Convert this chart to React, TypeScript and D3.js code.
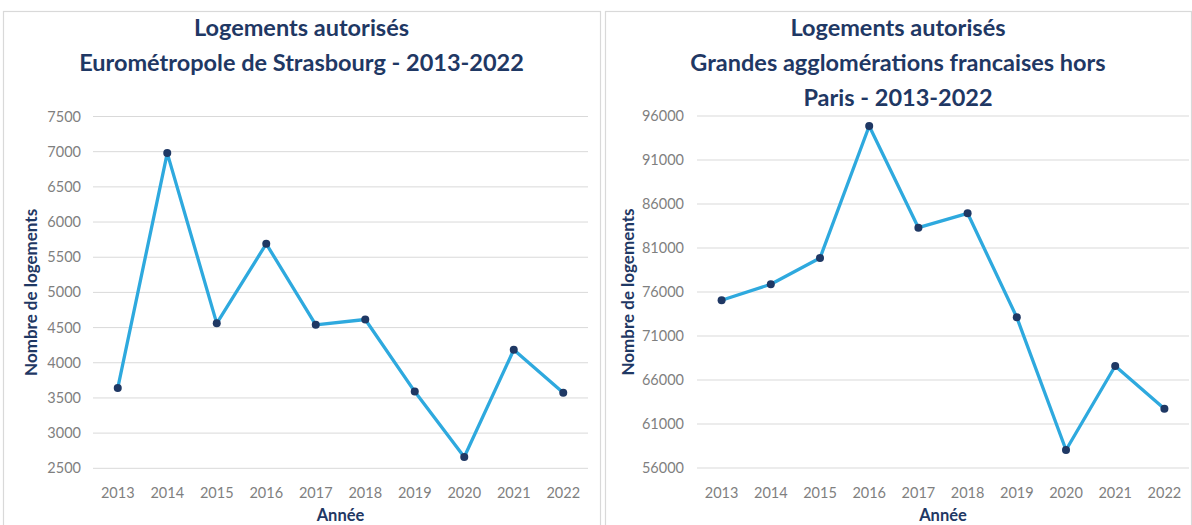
import React from "react";
import * as d3 from "d3";

const years = ["2013", "2014", "2015", "2016", "2017", "2018", "2019", "2020", "2021", "2022"];
const strasbourgValues = [3640, 6980, 4560, 5690, 4540, 4615, 3590, 2660, 4185, 3575];
const grandesValues = [75060, 76880, 79860, 94860, 83310, 84940, 73120, 58050, 67590, 62740];
const strasbourgTicks = [2500, 3000, 3500, 4000, 4500, 5000, 5500, 6000, 6500, 7000, 7500];
const grandesTicks = [56000, 61000, 66000, 71000, 76000, 81000, 86000, 91000, 96000];
const strasbourgTitle = ["Logements autorisés", "Eurométropole de Strasbourg  - 2013-2022"];
const grandesTitle = ["Logements autorisés", "Grandes agglomérations francaises hors", "Paris - 2013-2022"];
const yTitle = "Nombre de logements";
const xTitle = "Année";

const FONT = "Lato, 'Open Sans', sans-serif";
const NAVY = "#1F3864";
const LINE = "#2EA9DE";
const GRID = "#D9D9D9";
const TICK = "#7F7F7F";

type PanelProps = {
  x0: number; x1: number; top: number;
  plotL: number; plotR: number; plotT: number; plotB: number;
  values: number[]; ticks: number[]; title: string[];
  yLabelX: number; yTitleX: number;
};

function Panel(p: PanelProps) {
  const x = d3.scaleBand<string>().domain(years).range([p.plotL, p.plotR]);
  const y = d3.scaleLinear().domain([d3.min(p.ticks)!, d3.max(p.ticks)!]).range([p.plotB, p.plotT]);
  const line = d3.line<number>().x((_, i) => x(years[i])! + x.bandwidth() / 2).y((v) => y(v));
  const cx = (p.x0 + p.x1) / 2;
  const plotCx = (p.plotL + p.plotR) / 2;
  return (
    <g>
      <rect x={p.x0 + 0.5} y={p.top + 0.5} width={p.x1 - p.x0} height={540 - p.top} fill="#fff" stroke={GRID} strokeWidth={1.2} />
      {p.title.map((t, i) => (
        <text key={i} x={cx} y={36 + i * 35} textAnchor="middle" fontFamily={FONT} fontWeight={700} fontSize={23.5} fill={NAVY}>{t}</text>
      ))}
      {p.ticks.map((t) => (
        <g key={t}>
          <line x1={p.plotL} x2={p.plotR} y1={y(t)} y2={y(t)} stroke={GRID} strokeWidth={1} />
          <text x={p.yLabelX} y={y(t) + 5} textAnchor="end" fontFamily={FONT} fontSize={14.5} fill={TICK}>{t}</text>
        </g>
      ))}
      {years.map((yr) => (
        <text key={yr} x={x(yr)! + x.bandwidth() / 2} y={p.plotB + 30} textAnchor="middle" fontFamily={FONT} fontSize={14.5} fill={TICK}>{yr}</text>
      ))}
      <path d={line(p.values)!} fill="none" stroke={LINE} strokeWidth={3.3} strokeLinejoin="round" />
      {p.values.map((v, i) => (
        <circle key={i} cx={x(years[i])! + x.bandwidth() / 2} cy={y(v)} r={4} fill={NAVY} />
      ))}
      <text transform={`translate(${p.yTitleX},${(p.plotT + p.plotB) / 2}) rotate(-90)`} textAnchor="middle" fontFamily={FONT} fontWeight={700} fontSize={17} fill={NAVY}>{yTitle}</text>
      <text x={plotCx} y={521} textAnchor="middle" fontFamily={FONT} fontWeight={700} fontSize={16.5} fill={NAVY}>{xTitle}</text>
    </g>
  );
}

export default function App() {
  return (
    <svg width={1192} height={525} style={{ position: "absolute", left: 0, top: 0, background: "#fff" }}>
      <rect width={1192} height={525} fill="#fff" />
      <Panel x0={3} x1={600} top={11} plotL={93} plotR={588} plotT={116.5} plotB={468.3}
        values={strasbourgValues} ticks={strasbourgTicks} title={strasbourgTitle} yLabelX={81} yTitleX={37} />
      <Panel x0={605} x1={1191} top={11} plotL={697} plotR={1189} plotT={116} plotB={468}
        values={grandesValues} ticks={grandesTicks} title={grandesTitle} yLabelX={684} yTitleX={634} />
    </svg>
  );
}
